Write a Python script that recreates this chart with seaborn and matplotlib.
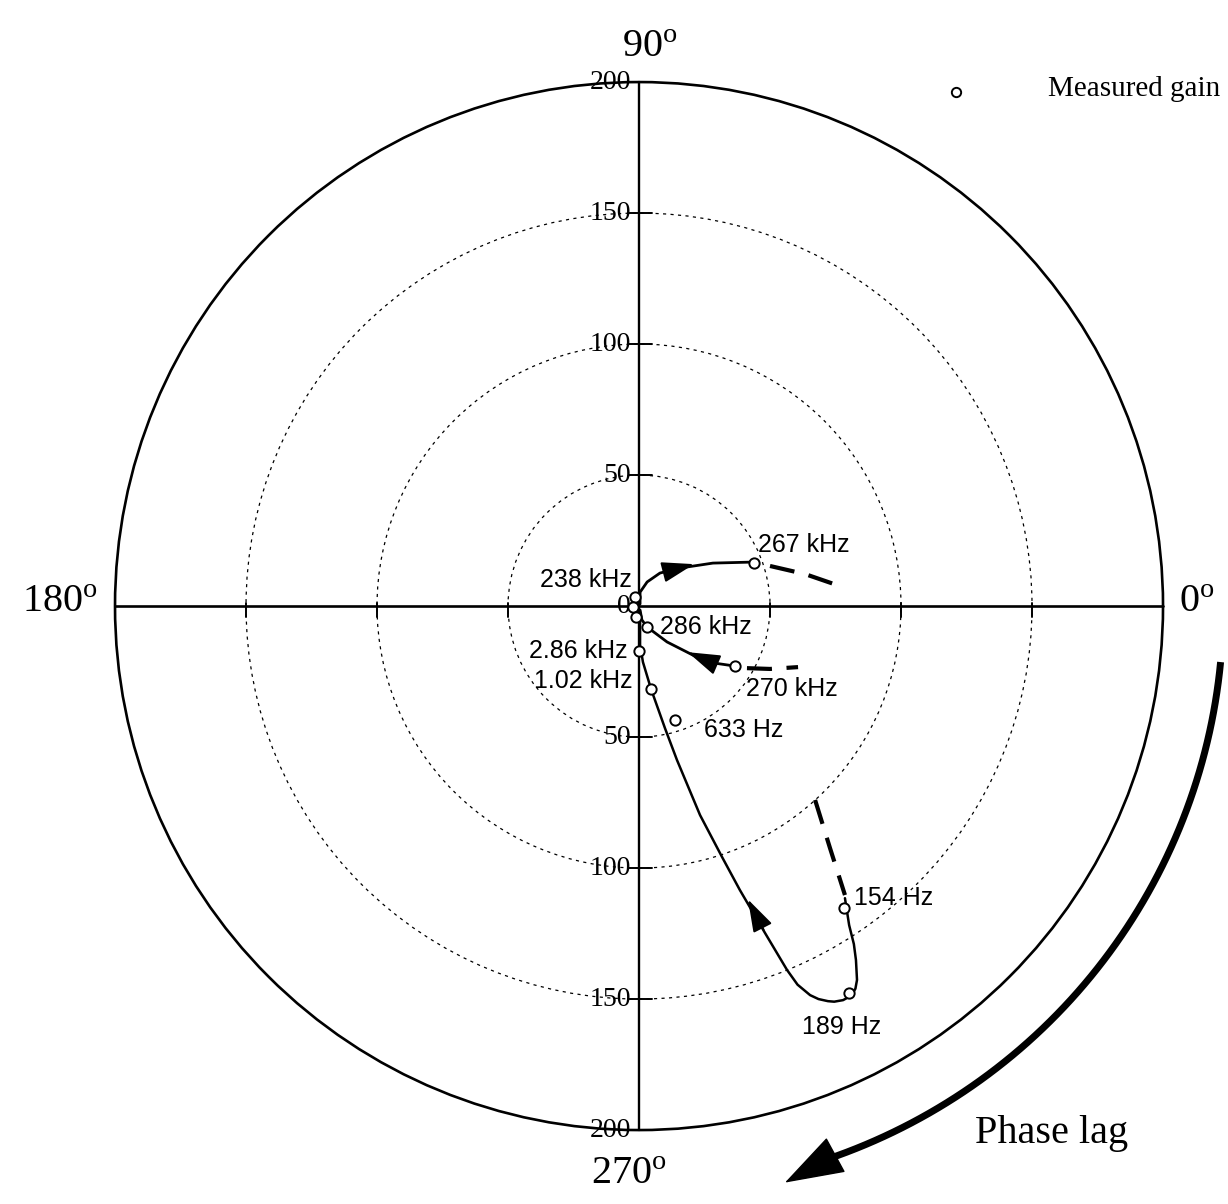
import numpy as np
import matplotlib
matplotlib.use("Agg")
import matplotlib.pyplot as plt
import seaborn as sns
from matplotlib.patches import Circle

upper_x = [0.4, 0.4, 3.1, 8.0, 15.6, 28.2, 43.9]
upper_y = [0.8, 5.3, 9.2, 12.6, 14.5, 16.4, 16.8]
upper_dash_x = [50.0, 63.4, 78.5]
upper_dash_y = [15.3, 12.2, 7.0]

lower_x = [0.4, 1.1, 3.1, 10.7, 22.1, 29.0, 36.6]
lower_y = [-1.5, -5.3, -8.0, -13.7, -19.5, -21.8, -22.9]
lower_dash_x = [41.2, 50.0, 60.7]
lower_dash_y = [-23.7, -24.0, -23.3]

main_x = [78.6, 80.2, 82.0, 82.8, 83.2, 82.6, 81.2, 77.9, 74.5, 72.1, 68.5,
          65.3, 60.5, 56.5, 48.1, 38.5, 31.7, 23.3, 14.5, 9.9, 4.6, 1.5,
          0.4, 0.4, 0.4]
main_y = [-111.5, -121.8, -129.0, -135.1, -142.7, -146.0, -148.6, -150.4,
          -151.0, -150.8, -150.0, -148.5, -144.5, -138.9, -124.8, -108.4,
          -95.8, -79.8, -58.8, -46.6, -31.7, -21.4, -14.9, -7.3, -2.3]
main_dash_x = [67.2, 72.9, 78.6]
main_dash_y = [-74.0, -92.4, -110.3]

meas_x = [-1.5, -2.3, -1.1, 43.9, 3.1, 36.6, 0.0, 4.6, 13.7, 78.2, 80.2]
meas_y = [3.4, -0.4, -4.2, 16.4, -8.0, -22.9, -17.2, -31.7, -43.5, -115.3, -147.7]

freq_labels = ["267 kHz", "238 kHz", "286 kHz", "2.86 kHz", "1.02 kHz",
               "270 kHz", "633 Hz", "154 Hz", "189 Hz"]
freq_label_x = [63.0, -20.2, 25.6, -23.3, -21.4, 58.4, 40.1, 97.3, 77.5]
freq_label_y = [23.3, 9.9, -8.0, -17.2, -28.6, -31.7, -47.3, -111.5, -160.7]

ring_values = [50, 100, 150]
outer_radius = 200
radial_ticks = [200, 150, 100, 50, 0, -50, -100, -150, -200]
radial_tick_labels = ["200", "150", "100", "50", "0", "50", "100", "150", "200"]
h_ticks = [-150, -100, -50, 50, 100, 150]

# ---------------- figure ----------------
sns.set_style("white")
plt.rcParams["font.family"] = ["Liberation Serif", "DejaVu Serif"]
plt.rcParams["text.color"] = "black"
plt.rcParams["mathtext.fontset"] = "custom"
plt.rcParams["mathtext.rm"] = "Liberation Serif"

fig = plt.figure(figsize=(12.28, 12.04), dpi=100)
ax = fig.add_axes([0, 0, 1, 1])
ax.set_xlim(-243.9, 224.8)
ax.set_ylim(-228.2, 231.3)
ax.set_aspect("equal")
ax.axis("off")

# rings
for r in ring_values:
    ax.add_patch(Circle((0, 0), r, fill=False, ec="k", lw=0.9,
                        ls=(0, (2.5, 3.5))))
ax.add_patch(Circle((0, 0), outer_radius, fill=False, ec="k", lw=1.9))

# axes lines
ax.plot([-outer_radius, outer_radius], [0, 0], color="k", lw=1.9)
ax.plot([0, 0], [-outer_radius, outer_radius], color="k", lw=1.7)
for t in radial_ticks:
    if abs(t) < outer_radius and t != 0:
        ax.plot([-4, 5], [t, t], color="k", lw=1.4)
for t in h_ticks:
    ax.plot([t, t], [-4, 1], color="k", lw=1.4)

for t, lab in zip(radial_ticks, radial_tick_labels):
    ax.text(-3.2, t, lab, ha="right", va="center", fontsize=20,
            color="black", family=["Liberation Serif"])

# angle labels
ax.text(4, 213, r"$\mathregular{90^o}$", ha="center", va="center", fontsize=29)
ax.text(-4, -217, r"$\mathregular{270^o}$", ha="center", va="center", fontsize=29)
ax.text(-221, 1.5, r"$\mathregular{180^o}$", ha="center", va="center", fontsize=29)
ax.text(213, 1.5, r"$\mathregular{0^o}$", ha="center", va="center", fontsize=29)

# curves
sns.lineplot(x=main_x, y=main_y, sort=False, estimator=None, color="k",
             lw=1.8, ax=ax)
sns.lineplot(x=upper_x, y=upper_y, sort=False, estimator=None, color="k",
             lw=2.0, ax=ax)
sns.lineplot(x=lower_x, y=lower_y, sort=False, estimator=None, color="k",
             lw=2.0, ax=ax)
for dx, dy in [(upper_dash_x, upper_dash_y), (lower_dash_x, lower_dash_y),
               (main_dash_x, main_dash_y)]:
    sns.lineplot(x=dx, y=dy, sort=False, estimator=None, color="k", lw=3.0,
                 ax=ax, dashes=False)
    ax.lines[-1].set_linestyle((0, (6, 3.5)))

# arrowheads on curves (direction of increasing frequency)
arrow_kw = dict(arrowstyle="-|>,head_length=1.0,head_width=0.32",
                color="k", lw=1.5, mutation_scale=20, shrinkA=0, shrinkB=0)
ax.annotate("", xy=(21.0, 16.0), xytext=(12.5, 13.8), arrowprops=arrow_kw)
ax.annotate("", xy=(18.6, -17.6), xytext=(26.5, -21.0), arrowprops=arrow_kw)
ax.annotate("", xy=(41.6, -112.0), xytext=(47.5, -123.5), arrowprops=arrow_kw)

# measured points
sns.scatterplot(x=meas_x, y=meas_y, marker="o", s=55, facecolor="white",
                edgecolor="k", linewidth=1.4, zorder=5, ax=ax)

for lab, lx, ly in zip(freq_labels, freq_label_x, freq_label_y):
    ax.text(lx, ly, lab, ha="center", va="center", fontsize=18,
            color="black", family=["Liberation Sans"])

# legend
ax.scatter([121.0], [196.2], s=45, facecolor="white", edgecolor="k",
           linewidth=1.4)
ax.text(156.1, 197.5, "Measured gain", ha="left", va="center", fontsize=21,
        color="black")

# phase lag arrow
arc_r = 223
theta = np.radians(np.linspace(-5.5, -71.5, 200))
ax.plot(arc_r * np.cos(theta), arc_r * np.sin(theta), color="k", lw=5,
        solid_capstyle="butt")
t0 = np.radians(-71.0)
t1 = np.radians(-75.8)
ax.annotate("", xy=(227 * np.cos(t1), 227 * np.sin(t1)),
            xytext=(arc_r * np.cos(t0), arc_r * np.sin(t0)),
            arrowprops=dict(arrowstyle="-|>,head_length=1.8,head_width=0.6",
                            color="k", lw=1, mutation_scale=22,
                            shrinkA=0, shrinkB=0))
ax.text(128.2, -201.5, "Phase lag", ha="left", va="center", fontsize=29,
        color="black")

fig.savefig("out.png", dpi=100, facecolor="white")
